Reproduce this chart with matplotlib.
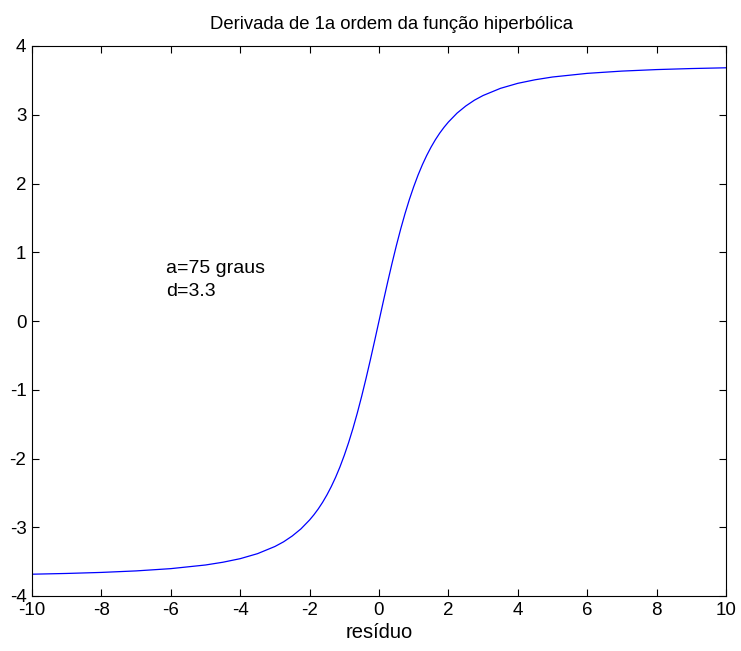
import matplotlib
matplotlib.use("Agg")
import matplotlib.pyplot as plt

plt.rcParams['font.family'] = ['Liberation Sans', 'DejaVu Sans']
plt.rcParams['axes.unicode_minus'] = False

# values (right half; curve is odd-symmetric)
x_pos = [0, 0.125, 0.25, 0.375, 0.5, 0.625, 0.75, 0.875, 1, 1.125, 1.25, 1.375,
         1.5, 1.625, 1.75, 1.875, 2, 2.25, 2.5, 2.75, 3, 3.5, 4, 4.5, 5, 6, 7, 8, 9, 10]
y_pos = [0, 0.286, 0.567, 0.838, 1.096, 1.338, 1.562, 1.767, 1.953, 2.122, 2.273, 2.408,
         2.529, 2.637, 2.733, 2.818, 2.894, 3.024, 3.127, 3.212, 3.280,
         3.384, 3.457, 3.509, 3.549, 3.602, 3.635, 3.657, 3.672, 3.683]

x_vals = [-v for v in x_pos[:0:-1]] + x_pos
y_vals = [-v for v in y_pos[:0:-1]] + y_pos

x_ticks = [-10, -8, -6, -4, -2, 0, 2, 4, 6, 8, 10]
y_ticks = [-4, -3, -2, -1, 0, 1, 2, 3, 4]

fig = plt.figure(figsize=(7.41, 6.51), dpi=100)
ax = fig.add_axes([32/741, 1-596/651, (726-32)/741, (596-46)/651])
ax.plot(x_vals, y_vals, color='#0000ff', linewidth=0.9)
ax.set_xlim(-10, 10)
ax.set_ylim(-4, 4)
ax.set_xticks(x_ticks)
ax.set_yticks(y_ticks)
ax.tick_params(direction='in', top=True, right=True, length=5, width=0.8,
               labelsize=13.5, pad=4)
for s in ax.spines.values():
    s.set_linewidth(0.8)
ax.set_title('Derivada de 1a ordem da função hiperbólica', fontsize=13.3, pad=12, x=0.518)
ax.set_xlabel('resíduo', fontsize=14.5, labelpad=3)
ax.text(-6.13, 0.77, 'a=75 graus', fontsize=14, ha='left', va='center')
ax.text(-6.13, 0.43, 'd=3.3', fontsize=14, ha='left', va='center')
fig.savefig('out.png', dpi=100)
